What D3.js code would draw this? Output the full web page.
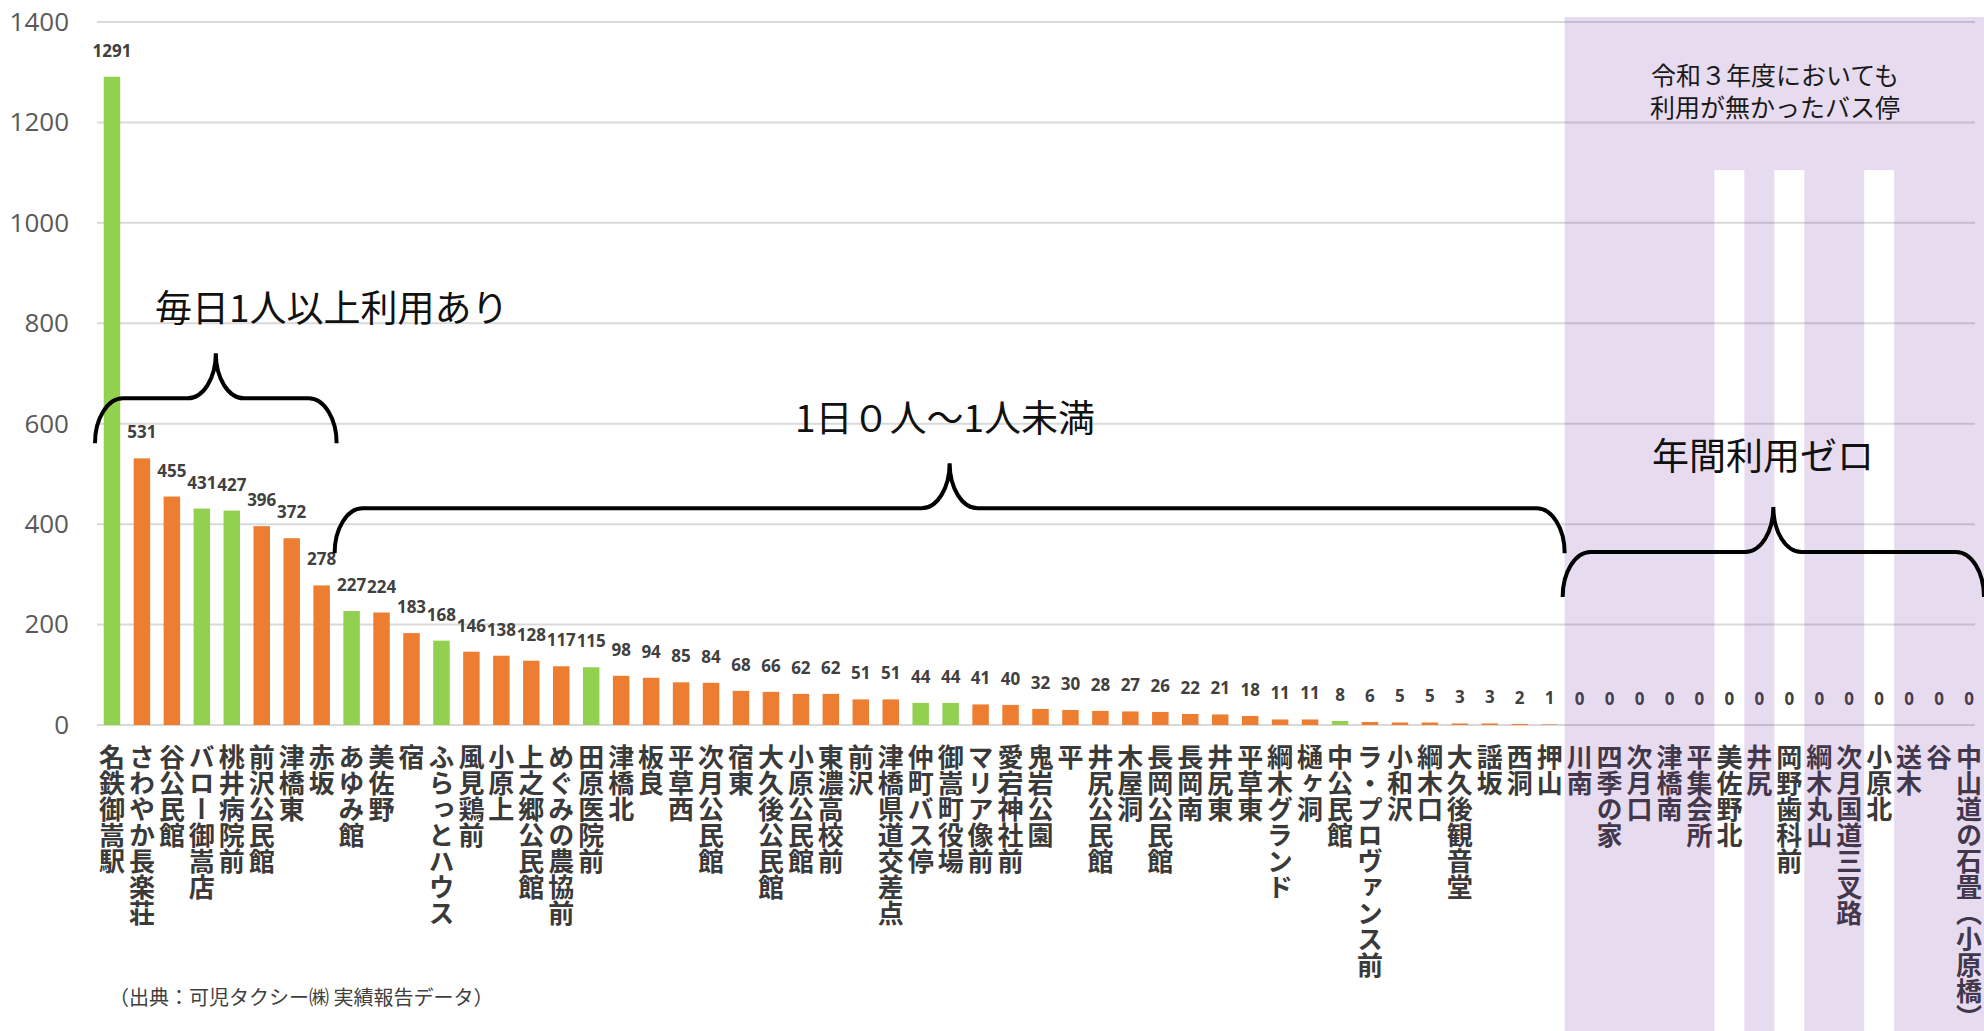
<!DOCTYPE html>
<html>
<head>
<meta charset="utf-8">
<script src="https://cdn.jsdelivr.net/npm/d3@7/dist/d3.min.js"></script>
<style>
  html, body { margin: 0; padding: 0; background: #fff; }
  svg { display: block; }
</style>
</head>
<body>
<svg id="chart" width="1984" height="1031"></svg>
<script>
// ---------- data ----------
const categories = [
  "名鉄御嵩駅","さわやか長楽荘","谷公民館","バロー御嵩店","桃井病院前","前沢公民館","津橋東","赤坂",
  "あゆみ館","美佐野","宿","ふらっとハウス","風見鶏前","小原上","上之郷公民館","めぐみの農協前",
  "田原医院前","津橋北","板良","平草西","次月公民館","宿東","大久後公民館","小原公民館",
  "東濃高校前","前沢","津橋県道交差点","仲町バス停","御嵩町役場","マリア像前","愛宕神社前","鬼岩公園",
  "平","井尻公民館","木屋洞","長岡公民館","長岡南","井尻東","平草東","綱木グランド",
  "樋ヶ洞","中公民館","ラ・プロヴァンス前","小和沢","綱木口","大久後観音堂","謡坂","西洞",
  "押山","川南","四季の家","次月口","津橋南","平集会所","美佐野北","井尻",
  "岡野歯科前","綱木丸山","次月国道三叉路","小原北","送木","谷","中山道の石畳（小原橋）"
];
const values = [
  1291,531,455,431,427,396,372,278,
  227,224,183,168,146,138,128,117,
  115,98,94,85,84,68,66,62,
  62,51,51,44,44,41,40,32,
  30,28,27,26,22,21,18,11,
  11,8,6,5,5,3,3,2,
  1,0,0,0,0,0,0,0,
  0,0,0,0,0,0,0
];
// bar colour group: "G" = green, "O" = orange
const colorGroups = [
  "G","O","O","G","G","O","O","O",
  "G","O","O","G","O","O","O","O",
  "G","O","O","O","O","O","O","O",
  "O","O","O","G","G","O","O","O",
  "O","O","O","O","O","O","O","O",
  "O","G","O","O","O","O","O","O",
  "O","O","O","O","O","O","O","O",
  "O","O","O","O","O","O","O"
];
// stops with no use also in 令和3年度 (shaded purple)
const zeroAlsoInR3 = ["川南","四季の家","次月口","津橋南","平集会所","井尻","綱木丸山","次月国道三叉路","送木","谷","中山道の石畳（小原橋）"];
const yTicks = [0,200,400,600,800,1000,1200,1400];

// group brackets: [first index, last index + 1], tip level (value units), label
const braceFrom = [0, 8, 49];
const braceTo = [8, 49, 63];
const braceTipValue = [561, 342, 255];
const groupLabels = ["毎日1人以上利用あり", "1日０人～1人未満", "年間利用ゼロ"];
const r3Note = ["令和３年度においても", "利用が無かったバス停"];
const sourceNote = "（出典：可児タクシー㈱ 実績報告データ）";

// ---------- layout ----------
const W = 1984, H = 1031;
const svg = d3.select("#chart");
const colors = { G: "#92D050", O: "#ED7D31" };

const x = d3.scaleBand().domain(categories).range([97, 1984]).paddingInner(0.45).paddingOuter(0.225);
const y = d3.scaleLinear().domain([0, 1400]).range([725, 22]);
const step = x.step();
const boundary = i => x.range()[0] + i * step;

// gridlines
svg.append("g").selectAll("line").data(yTicks).join("line")
  .attr("x1", 97).attr("x2", 1975)
  .attr("y1", d => y(d)).attr("y2", d => y(d))
  .attr("stroke", "#d9d9d9").attr("stroke-width", 2);

// y axis labels
const yAxis = svg.append("g").attr("transform", "translate(97,0)")
  .call(d3.axisLeft(y).tickValues(yTicks).tickSize(0).tickPadding(28).tickFormat(d3.format("d")));
yAxis.select(".domain").remove();
yAxis.selectAll("text").attr("font-family", "'Open Sans', sans-serif").attr("font-size", 26).attr("fill", "#595959");

// bars
svg.append("g").selectAll("rect").data(categories).join("rect")
  .attr("x", d => x(d)).attr("width", x.bandwidth())
  .attr("y", (d, i) => y(values[i]))
  .attr("height", (d, i) => y(0) - y(values[i]))
  .attr("fill", (d, i) => colors[colorGroups[i]]);

// value labels
svg.append("g").selectAll("text").data(categories).join("text")
  .attr("x", d => x(d) + x.bandwidth() / 2)
  .attr("y", (d, i) => y(values[i]) - 20)
  .attr("text-anchor", "middle")
  .attr("font-family", "'Open Sans', sans-serif").attr("font-weight", "bold").attr("font-size", 17)
  .attr("fill", "#404040")
  .text((d, i) => values[i]);

// category labels (vertical)
svg.append("g").selectAll("text").data(categories).join("text")
  .attr("x", d => x(d) + x.bandwidth() / 2)
  .attr("y", 744)
  .attr("style", "writing-mode: vertical-rl; text-orientation: mixed;")
  .attr("font-family", "'Noto Sans CJK JP', sans-serif").attr("font-weight", "bold").attr("font-size", 26)
  .attr("fill", "#3a3a3a")
  .text(d => d);

// source note
svg.append("text").attr("x", 109).attr("y", 1005)
  .attr("font-family", "'Noto Sans CJK JP', sans-serif").attr("font-size", 20).attr("fill", "#404040")
  .text(sourceNote);

// purple shading (top band + columns of stops with no use in R3 either)
const zeroIdx = categories.map((c, i) => i).filter(i => values[i] === 0);
const first0 = zeroIdx[0];
const shadeTop = y(1410), colTop = y(1105);
const shade = svg.append("g").attr("fill", "#7030A0").attr("fill-opacity", 0.17);
shade.append("rect").attr("x", boundary(first0)).attr("y", shadeTop)
  .attr("width", W - boundary(first0)).attr("height", colTop - shadeTop);
// contiguous runs
const runs = [];
categories.forEach((c, i) => {
  if (!zeroAlsoInR3.includes(c)) return;
  const last = runs[runs.length - 1];
  if (last && last[1] === i) last[1] = i + 1; else runs.push([i, i + 1]);
});
shade.selectAll("rect.col").data(runs).join("rect").attr("class", "col")
  .attr("x", r => boundary(r[0])).attr("y", colTop)
  .attr("width", r => Math.min(W, boundary(r[1])) - boundary(r[0]))
  .attr("height", H - colTop);

// braces
function bracePath(x0, x1, yt) {
  const ry = 45, rx = 28, k = 0.5523;
  const yh = yt - ry, yp = yh - ry, xm = (x0 + x1) / 2;
  return [
    `M${x0},${yt}`,
    `C${x0},${yt - k * ry} ${x0 + rx - k * rx},${yh} ${x0 + rx},${yh}`,
    `L${xm - rx},${yh}`,
    `C${xm - rx + k * rx},${yh} ${xm},${yp + k * ry} ${xm},${yp}`,
    `C${xm},${yp + k * ry} ${xm + rx - k * rx},${yh} ${xm + rx},${yh}`,
    `L${x1 - rx},${yh}`,
    `C${x1 - rx + k * rx},${yh} ${x1},${yt - k * ry} ${x1},${yt}`
  ].join(" ");
}
svg.append("g").selectAll("path").data(braceFrom).join("path")
  .attr("d", (d, i) => bracePath(boundary(braceFrom[i]) - 2, boundary(braceTo[i]), y(braceTipValue[i])))
  .attr("fill", "none").attr("stroke", "#000").attr("stroke-width", 4);

// group labels
const labelPos = [[155, 322, "start"], [945, 432, "middle"], [1763, 470, "middle"]];
svg.append("g").selectAll("text").data(groupLabels).join("text")
  .attr("x", (d, i) => labelPos[i][0]).attr("y", (d, i) => labelPos[i][1])
  .attr("text-anchor", (d, i) => labelPos[i][2])
  .attr("font-family", "'Noto Sans CJK JP', sans-serif").attr("font-size", 37).attr("fill", "#111")
  .text(d => d);

// R3 note
svg.append("g").selectAll("text").data(r3Note).join("text")
  .attr("x", 1775).attr("y", (d, i) => 85 + i * 32)
  .attr("text-anchor", "middle")
  .attr("font-family", "'Noto Sans CJK JP', sans-serif").attr("font-size", 25).attr("fill", "#1a1a1a")
  .text(d => d);
</script>
</body>
</html>
